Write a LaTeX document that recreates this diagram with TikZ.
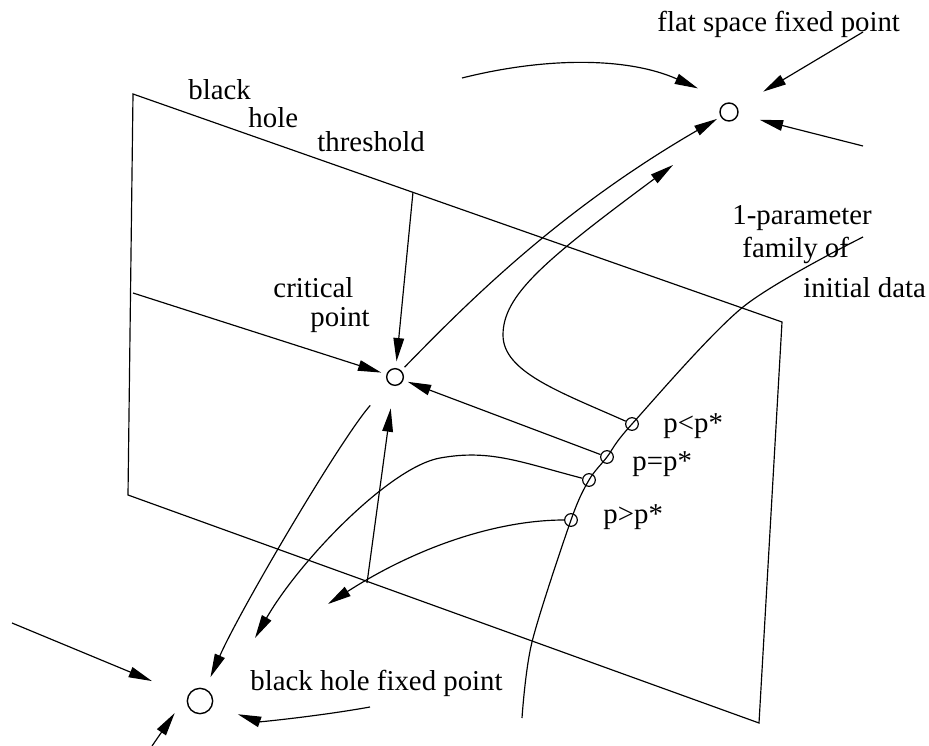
\documentclass[tikz,border=0pt]{standalone}
\usepackage{fontspec}
\setmainfont{Liberation Serif}
\usetikzlibrary{arrows.meta, calc}

\begin{document}
\begin{tikzpicture}[x=0.015cm, y=-0.015cm,
    every node/.style={font=\fontsize{12.3}{14}\selectfont},
    line/.style={line width=0.5pt},
    arrow/.style={-{Triangle[length=3.5mm, width=1.6mm]}, line width=0.5pt},
    fixpt/.style={circle, draw, line width=0.6pt, inner sep=0pt, minimum size=0.27cm},
    datapt/.style={circle, draw, line width=0.5pt, inner sep=0pt, minimum size=0.19cm},
    lbl/.style={anchor=base west, inner sep=0pt}
]
\useasboundingbox (0,0) rectangle (929,746);

% fixed points and data points
\node[fixpt] (flat) at (729,112) {};
\node[fixpt, minimum size=0.25cm] (crit) at (395,377) {};
\node[fixpt, minimum size=0.38cm] (bhfix) at (200,701) {};
\node[datapt] (plt) at (632,424) {};
\node[datapt] (peq) at (607,457) {};
\node[datapt] (pnear) at (589,480) {};
\node[datapt] (pgt) at (571,520) {};

% plane of the threshold
\coordinate (tl) at (133,94);
\coordinate (tr) at (782,322);
\coordinate (br) at (759,723);
\coordinate (bl) at (128,495);
\coordinate (thtop) at (413,192);
\coordinate (thbot) at (367,583);
\coordinate (lft) at (133,293);
\draw[line] (tl) -- (tr) -- (br) -- (bl) -- cycle;

% family of initial data
\coordinate (fam0) at (522,718);
\coordinate (fam1) at (532,642);
\coordinate (fam5) at (743,307);
\coordinate (fam6) at (863,237);
\draw[line] plot[smooth, tension=0.5] coordinates {(fam0) (fam1) (pgt.center) (pnear.center) (peq.center) (plt.center) (fam5) (fam6)};

% flow inside the threshold
\draw[arrow, shorten >=0.1cm] (thtop) -- (crit);
\draw[arrow, shorten >=0.34cm] (thbot) -- (crit);
\draw[arrow, shorten >=0.08cm] (lft) -- (crit);
\draw[arrow, shorten >=0.07cm] (peq) -- (crit);

% unstable directions of the critical point
\draw[arrow, shorten <=0.07cm, shorten >=0.06cm] (crit) .. controls (470,300) and (560,210) .. (flat);
\draw[arrow, shorten <=0.43cm, shorten >=0.19cm] (crit) .. controls (340,440) and (240,610) .. (bhfix);

% evolutions of the other data
\coordinate (pltturn) at (503,335);
\coordinate (pltend) at (673,165);
\draw[arrow] (plt) .. controls (560,392) and (503,372) .. (pltturn) .. controls (503,295) and (545,260) .. (pltend);
\coordinate (pnearpeak) at (440,458);
\coordinate (pnearend) at (255,638);
\draw[arrow] (pnear) .. controls (520,462) and (490,449) .. (pnearpeak) .. controls (390,467) and (300,560) .. (pnearend);
\coordinate (pgtend) at (328,604);
\draw[arrow] (pgt) .. controls (500,520) and (420,545) .. (pgtend);

% flow into the flat space fixed point
\coordinate (fin1) at (462,78);
\coordinate (fin2) at (863,32);
\coordinate (fin3) at (863,146);
\draw[arrow, shorten >=0.51cm] (fin1) .. controls (550,56) and (630,58) .. (flat.north);
\draw[arrow, shorten >=0.45cm] (fin2) -- (flat);
\draw[arrow, shorten >=0.33cm] (fin3) -- (flat);

% flow into the black hole fixed point
\coordinate (bin1) at (12,623);
\coordinate (bin2) at (152,746);
\coordinate (bin3) at (370,707);
\draw[arrow, shorten >=0.58cm] (bin1) -- (bhfix);
\draw[arrow, shorten >=0.22cm] (bin2) -- ($(bhfix)+(-17,0)$);
\draw[arrow, shorten >=0.4cm] (bin3) .. controls (320,716) and (260,722) .. (bhfix);

% labels
\node[lbl] (flatlbl) at (657,32) {flat space fixed point};
\node[lbl] (thlbl1) at (188,100) {black};
\node[lbl] (thlbl2) at (248,128) {hole};
\node[lbl] (thlbl3) at (317,152) {threshold};
\node[lbl] (critlbl1) at (273,298) {critical};
\node[lbl] (critlbl2) at (310,327) {point};
\node[lbl] (famlbl1) at (732,225) {1-parameter};
\node[lbl] (famlbl2) at (742,258) {family of};
\node[lbl] (famlbl3) at (803,298) {initial data};
\node[lbl] (pltlbl) at (663,432) {p<p*};
\node[lbl] (peqlbl) at (632,470) {p=p*};
\node[lbl] (pgtlbl) at (603,523) {p>p*};
\node[lbl] (bhlbl) at (250,690) {black hole fixed point};

\end{tikzpicture}
\end{document}
